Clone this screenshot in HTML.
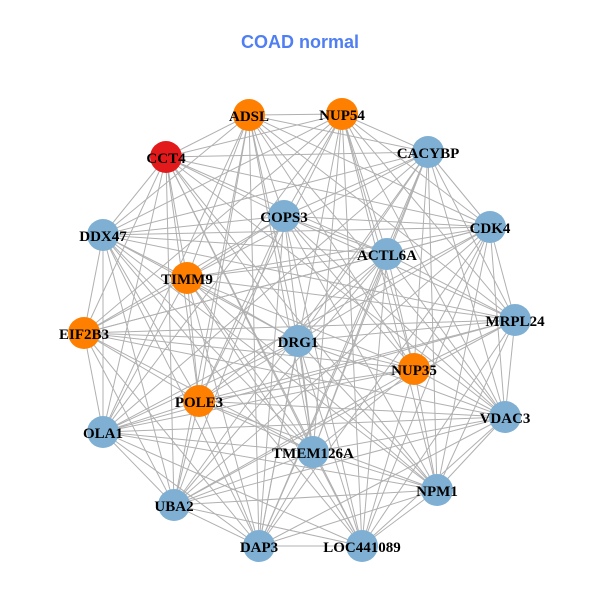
<!DOCTYPE html>
<html><head><meta charset="utf-8"><style>
html,body{margin:0;padding:0;background:#fff;width:600px;height:600px;overflow:hidden}
</style></head><body>
<svg id="g" width="600" height="600" xmlns="http://www.w3.org/2000/svg">
<text x="300" y="48" text-anchor="middle" font-family="Liberation Sans, sans-serif" font-weight="bold" font-size="18" fill="#4f7ff2">COAD normal</text>
<g id="edges" stroke="#b0b0b0" stroke-width="1"></g>
<g id="nodes"></g>
<g font-family="Liberation Serif, serif" font-weight="bold" font-size="15" fill="#000" text-anchor="middle">
<text x="249" y="121">ADSL</text>
<text x="342" y="120">NUP54</text>
<text x="166" y="163">CCT4</text>
<text x="428" y="158">CACYBP</text>
<text x="284" y="222">COPS3</text>
<text x="103" y="241">DDX47</text>
<text x="490" y="233">CDK4</text>
<text x="387" y="260">ACTL6A</text>
<text x="187" y="284">TIMM9</text>
<text x="515" y="326">MRPL24</text>
<text x="84" y="339">EIF2B3</text>
<text x="298" y="347">DRG1</text>
<text x="414" y="375">NUP35</text>
<text x="199" y="407">POLE3</text>
<text x="103" y="438">OLA1</text>
<text x="505" y="423">VDAC3</text>
<text x="313" y="458">TMEM126A</text>
<text x="437" y="496">NPM1</text>
<text x="174" y="511">UBA2</text>
<text x="259" y="552">DAP3</text>
<text x="362" y="552">LOC441089</text>
</g>
</svg>
<script>
var N=[[249,115,'#ff7f00'],[342,114,'#ff7f00'],[166,157,'#e31a1c'],[428,152,'#7fb0d4'],[284,216,'#7fb0d4'],[103,235,'#7fb0d4'],[490,227,'#7fb0d4'],[387,254,'#7fb0d4'],[187,278,'#ff7f00'],[515,320,'#7fb0d4'],[84,333,'#ff7f00'],[298,341,'#7fb0d4'],[414,369,'#ff7f00'],[199,401,'#ff7f00'],[103,432,'#7fb0d4'],[505,417,'#7fb0d4'],[313,452,'#7fb0d4'],[437,490,'#7fb0d4'],[174,505,'#7fb0d4'],[259,546,'#7fb0d4'],[362,546,'#7fb0d4']];
var ns='http://www.w3.org/2000/svg',E=document.getElementById('edges'),G=document.getElementById('nodes');
for(var i=0;i<N.length;i++)for(var j=i+1;j<N.length;j++){
 if(((i*7+j*13)%10)<2)continue;
 var l=document.createElementNS(ns,'line');
 l.setAttribute('x1',N[i][0]);l.setAttribute('y1',N[i][1]);l.setAttribute('x2',N[j][0]);l.setAttribute('y2',N[j][1]);E.appendChild(l);}
N.forEach(function(n){var c=document.createElementNS(ns,'circle');c.setAttribute('cx',n[0]);c.setAttribute('cy',n[1]);c.setAttribute('r',16);c.setAttribute('fill',n[2]);G.appendChild(c);});
</script>
</body></html>
